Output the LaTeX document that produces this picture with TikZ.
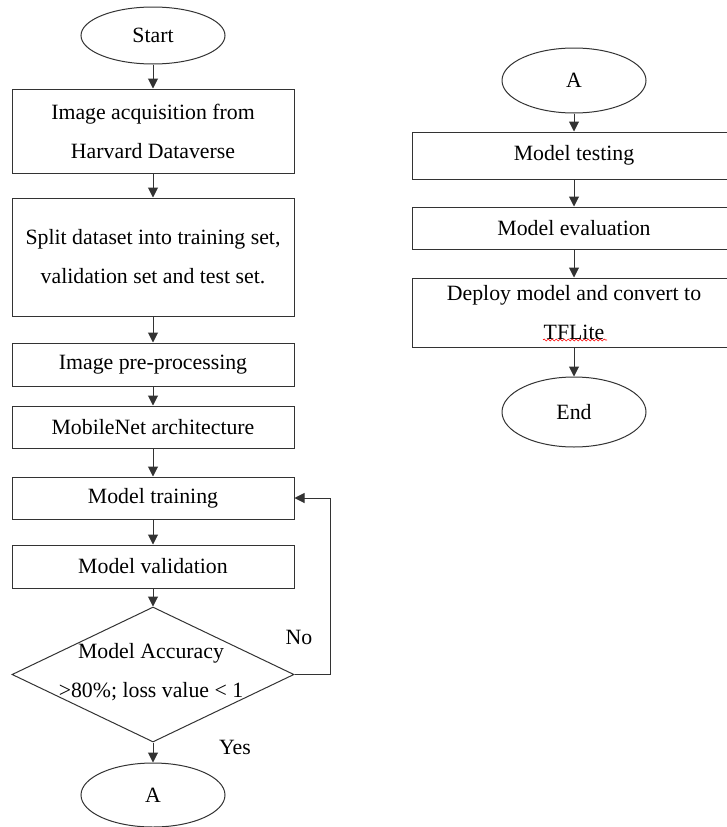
\documentclass[tikz,border=0pt]{standalone}
\usepackage{fontspec}
\setmainfont{Liberation Serif}
\usetikzlibrary{shapes.geometric,arrows.meta,decorations.pathmorphing}
\begin{document}
\begin{tikzpicture}[x=1pt,y=-1pt,
  every node/.style={font=\fontsize{21.8}{39}\selectfont, text=black},
  box/.style={draw=black!80, line width=1pt, rectangle, inner sep=0pt, align=center},
  term/.style={draw=black!80, line width=1pt, ellipse, inner sep=0pt, minimum width=144pt},
  arr/.style={draw=black!80, line width=1pt, -{Triangle[width=10pt,length=10pt]}},
  lbl/.style={inner sep=0pt}]
\fill[white] (0,0) rectangle (726,827);
\useasboundingbox (0,0) rectangle (726,827);
% left column
\node[term, minimum height=57pt] (start) at (153,35.5) {Start};
\node[box, minimum width=282pt, minimum height=84pt] (b1) at (153,131) {Image acquisition from\\Harvard Dataverse};
\node[box, minimum width=282pt, minimum height=118pt] (b2) at (153,257) {Split dataset into training set,\\validation set and test set.};
\node[box, minimum width=282pt, minimum height=43pt] (b3) at (153,364.5) {Image pre-processing};
\node[box, minimum width=282pt, minimum height=42pt] (b4) at (153,427) {MobileNet architecture};
\node[box, minimum width=282pt, minimum height=42pt] (b5) at (153,498) {Model training};
\node[box, minimum width=282pt, minimum height=43pt] (b6) at (153,566.5) {Model validation};
\node[diamond, draw=black!80, line width=1pt, inner sep=0pt, minimum width=282pt, minimum height=135pt] (dec) at (153,674.5) {};
\node[lbl, align=center] (dectext) at (151,672) {Model Accuracy\\>80\%; loss value < 1};
\node[term, minimum height=64pt] (a1) at (153,795) {A};
\node[lbl] (no) at (299,637) {No};
\node[lbl] (yes) at (235,747) {Yes};
% right column
\node[term, minimum height=65pt] (a2) at (574,80.5) {A};
\node[box, minimum width=324pt, minimum height=47pt] (r1) at (574,155.5) {Model testing};
\node[box, minimum width=324pt, minimum height=42pt] (r2) at (574,228) {Model evaluation};
\node[box, minimum width=324pt, minimum height=69pt] (r3) at (574,312.5) {Deploy model and convert to\\TFLite};
\node[term, minimum height=70pt] (end) at (574,412) {End};
\coordinate (sq1) at (543,340);
\coordinate (sq2) at (607,340);
% connectors
\draw[arr] (start) -- (b1);
\draw[arr] (b1) -- (b2);
\draw[arr] (b2) -- (b3);
\draw[arr] (b3) -- (b4);
\draw[arr] (b4) -- (b5);
\draw[arr] (b5) -- (b6);
\draw[arr] (b6) -- (dec);
\draw[arr] (dec) -- (a1);
\draw[arr] (dec.east) -- ++(36,0) |- (b5.east);
\draw[arr] (a2) -- (r1);
\draw[arr] (r1) -- (r2);
\draw[arr] (r2) -- (r3);
\draw[arr] (r3) -- (end);
\draw[red, line width=0.6pt, decorate, decoration={snake, amplitude=1pt, segment length=4pt}] (sq1) -- (sq2);
\end{tikzpicture}
\end{document}
